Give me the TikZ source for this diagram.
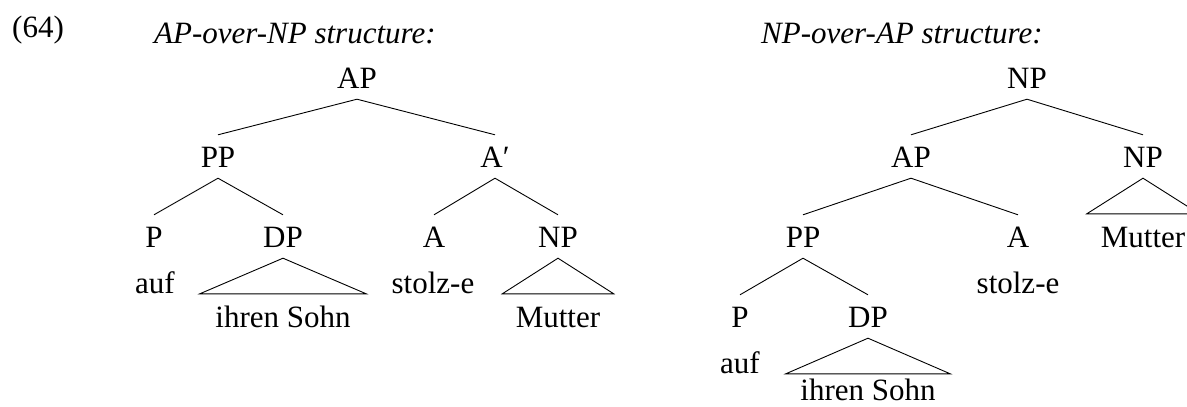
\documentclass[tikz,border=0pt]{standalone}
\usepackage{fontspec}
\setmainfont{Liberation Serif}
\begin{document}
\begin{tikzpicture}[x=1pt,y=-1pt,
  every node/.style={font=\fontsize{31}{37}\selectfont, inner sep=0pt},
  cat/.style={anchor=base, text height=32pt, text depth=11pt},
  word/.style={anchor=base, text height=33pt, text depth=0pt},
  label/.style={anchor=base west},
  edge/.style={line width=0.9pt, line join=miter},
  ]
\useasboundingbox (0,0) rectangle (1187,407);

% example number and titles
\node[label] (num) at (12,37) {(64)};
\node[label] (t1) at (154,43) {\itshape AP-over-NP structure:};
\node[label] (t2) at (761,43) {\itshape NP-over-AP structure:};

% ---------- left tree ----------
\node[cat] (lAP) at (357,88) {AP};
\node[cat] (lPP) at (218,167) {PP};
\node[cat] (lAb) at (495,167) {A′};
\node[cat] (lP) at (154,247) {P};
\node[cat] (lDP) at (283,247) {DP};
\node[cat] (lA) at (434,247) {A};
\node[cat] (lNP) at (558,247) {NP};
\node[word] (lauf) at (155,293) {auf};
\node[word] (lstolz) at (433,293) {stolz-e};
\node[word, minimum width=166pt] (lsohn) at (283,327) {ihren Sohn};
\node[word, minimum width=111pt] (lmutter) at (558,327) {Mutter};

\draw[edge] (lAP.south) -- (lPP.north);
\draw[edge] (lAP.south) -- (lAb.north);
\draw[edge] (lPP.south) -- (lP.north);
\draw[edge] (lPP.south) -- (lDP.north);
\draw[edge] (lAb.south) -- (lA.north);
\draw[edge] (lAb.south) -- (lNP.north);
\draw[edge] (lDP.south) -- (lsohn.north west) -- (lsohn.north east) -- cycle;
\draw[edge] (lNP.south) -- (lmutter.north west) -- (lmutter.north east) -- cycle;

% ---------- right tree ----------
\node[cat] (rNP) at (1027,88) {NP};
\node[cat] (rAP) at (911,167) {AP};
\node[cat] (rNPb) at (1143,167) {NP};
\node[cat] (rPP) at (803,247) {PP};
\node[cat] (rA) at (1018,247) {A};
\node[word, minimum width=112pt] (rmutter) at (1143,247) {Mutter};
\node[word] (rstolz) at (1018,293) {stolz-e};
\node[cat] (rP) at (740,327) {P};
\node[cat] (rDP) at (868,327) {DP};
\node[word] (rauf) at (740,373) {auf};
\node[word, minimum width=164pt, text height=26pt] (rsohn) at (868,400) {ihren Sohn};

\draw[edge] (rNP.south) -- (rAP.north);
\draw[edge] (rNP.south) -- (rNPb.north);
\draw[edge] (rAP.south) -- (rPP.north);
\draw[edge] (rAP.south) -- (rA.north);
\draw[edge] (rNPb.south) -- (rmutter.north west) -- (rmutter.north east) -- cycle;
\draw[edge] (rPP.south) -- (rP.north);
\draw[edge] (rPP.south) -- (rDP.north);
\draw[edge] (rDP.south) -- (rsohn.north west) -- (rsohn.north east) -- cycle;
\end{tikzpicture}
\end{document}
